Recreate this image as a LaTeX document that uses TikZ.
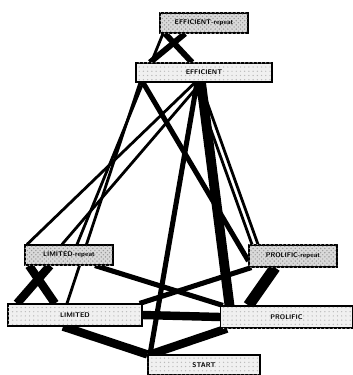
\documentclass[tikz,border=0pt]{standalone}
\usepackage{tikz}
\usetikzlibrary{positioning,calc,patterns,backgrounds}

\begin{document}
\begin{tikzpicture}[x=0.025cm, y=-0.025cm,
    statebox/.style={draw=black, line width=0.8pt, fill=gray!12, inner sep=0pt,
        font=\sffamily\bfseries\fontsize{4.8}{5}\selectfont,
        postaction={pattern=dots, pattern color=gray!55}},
    repeatbox/.style={statebox, fill=gray!30,
        postaction={pattern=crosshatch dots, pattern color=gray!80}},
    thinlink/.style={draw=black, line width=2pt},
    midlink/.style={draw=black, line width=3.6pt},
    thicklink/.style={draw=black, line width=6pt}]
\useasboundingbox (0,0) rectangle (353,375);

% States
\node[repeatbox, minimum width=2.2cm, minimum height=0.5cm] (effr) at (204,23) {EFFICIENT-repeat};
\node[statebox, minimum width=3.4cm, minimum height=0.475cm] (eff) at (204,72.5) {EFFICIENT};
\node[repeatbox, minimum width=2.2cm, minimum height=0.5cm] (limr) at (69,255) {LIMITED-repeat};
\node[statebox, minimum width=3.35cm, minimum height=0.55cm] (lim) at (75,315) {LIMITED};
\node[repeatbox, minimum width=2.2cm, minimum height=0.55cm] (prolr) at (293,256) {PROLIFIC-repeat};
\node[statebox, minimum width=3.3cm, minimum height=0.55cm] (prol) at (286.5,317) {PROLIFIC};
\node[statebox, minimum width=2.8cm, minimum height=0.5cm] (start) at (204,365) {START};

\begin{scope}[on background layer]
% Transitions from the top
\draw[midlink, line width=4.2pt] ($(effr.south)+(-19,0)$) -- ($(eff.north)+(-54,0)$);
\draw[midlink, line width=4.2pt] ($(effr.south)+(-39,0)$) -- ($(eff.north)+(-12,0)$);
\draw[thinlink] ($(effr.south)+(-41,0)$) -- ($(limr.north)+(8,0)$);
\draw[thinlink] ($(eff.south)+(-64,0)$) -- ($(lim.north)+(-8,0)$);
\draw[thinlink] ($(eff.south)+(-9,0)$) -- ($(limr.north)+(-42,0)$);
\draw[thinlink] ($(eff.south)+(-3,0)$) -- ($(limr.north)+(-7,0)$);
\draw[midlink] ($(eff.south)+(-7,0)$) -- ($(start.north)+(-54,0)$);
\draw[thicklink, line width=7pt] ($(eff.south)+(-3,0)$) -- ($(prol.north)+(-57,0)$);
\draw[midlink] ($(eff.south)+(-61,0)$) -- ($(prolr.west)+(0,5)$);
\draw[thinlink] ($(eff.south)+(-10,0)$) -- ($(prolr.north)+(-41,0)$);
\draw[thinlink] ($(eff.south)+(-4,0)$) -- ($(prolr.north)+(-35,0)$);

% Transitions between the lower states
\draw[thicklink] ($(limr.south)+(-19,0)$) -- ($(lim.north)+(-58,0)$);
\draw[thicklink] ($(limr.south)+(-40,0)$) -- ($(lim.north)+(-20,0)$);
\draw[midlink] ($(limr.south)+(26,0)$) -- ($(prol.north west)+(3,0)$);
\draw[midlink] ($(lim.north east)+(-3,0)$) -- ($(prolr.south west)+(3,0)$);
\draw[thicklink] (lim.east) -- (prol.west);
\draw[thicklink, line width=8pt] ($(prolr.south)+(-18,0)$) -- ($(prol.north)+(-38,0)$);

% Into START
\draw[thicklink] ($(lim.south)+(-12,0)$) -- (start.north west);
\draw[thicklink] ($(prol.south west)+(7,0)$) -- ($(start.north west)+(3,0)$);
\end{scope}

\end{tikzpicture}
\end{document}
